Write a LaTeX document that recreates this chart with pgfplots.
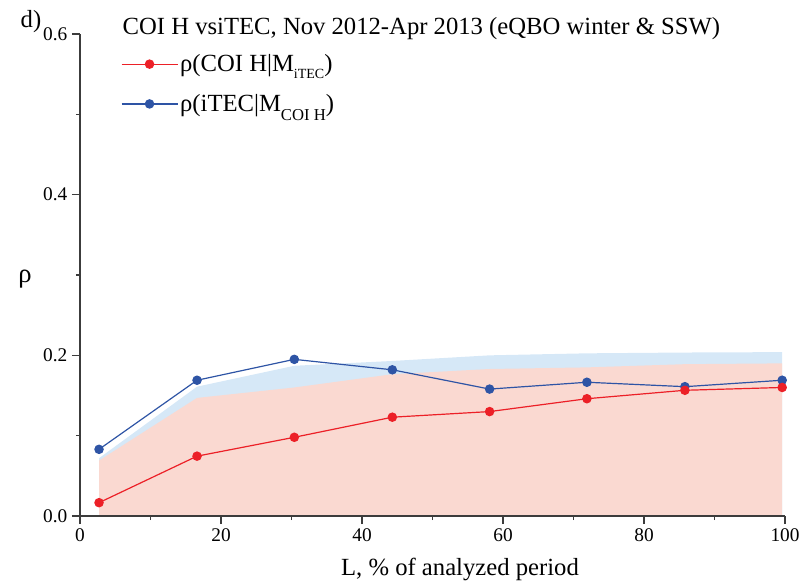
\documentclass[border=0pt]{standalone}
\usepackage{fontspec}
\setmainfont{Liberation Serif}
\usepackage{pgfplots}
\pgfplotsset{compat=1.18}
\definecolor{redline}{RGB}{236,32,39}
\definecolor{blueline}{RGB}{46,84,165}
\definecolor{bluefill}{RGB}{214,232,247}
\definecolor{redfill}{RGB}{250,217,209}
\definecolor{axisgray}{RGB}{60,60,60}
\newcommand{\subA}[1]{\raisebox{-5pt}{\fontsize{10.5}{10.5}\selectfont #1}}
\newcommand{\subB}[1]{\raisebox{-6.5pt}{\fontsize{12.5}{12.5}\selectfont #1}}
\begin{document}
\begin{tikzpicture}
\useasboundingbox (-60pt,-50.25pt) rectangle (546.75pt,387pt);
\begin{axis}[
  at={(0pt,0pt)}, anchor=south west,
  scale only axis, width=528.75pt, height=361.5pt,
  xmin=0, xmax=100, ymin=0, ymax=0.6,
  axis x line*=bottom, axis y line*=left,
  axis on top,
  axis line style={axisgray, line width=1pt},
  xtick={0,20,...,100}, ytick={0,0.2,0.4,0.6},
  minor xtick={10,30,50,70,90}, minor ytick={0.1,0.3,0.5},
  tick align=outside, major tick length=6pt, minor tick length=3pt,
  tick style={axisgray, line width=0.8pt},
  yticklabel style={/pgf/number format/fixed, /pgf/number format/fixed zerofill, /pgf/number format/precision=1},
  /pgf/number format/assume math mode=true,
  ticklabel style={font=\fontsize{14.5}{14.5}\selectfont},
  legend style={draw=none, fill=none, at={(axis description cs:0.0577,0.962)}, anchor=north west,
    inner sep=0pt, row sep=12.5pt, font=\fontsize{18.5}{18.5}\selectfont, nodes={inner sep=1.5pt}},
  legend cell align=left,
  reverse legend,
  legend image code/.code={\draw[#1, mark repeat=2, mark phase=2] plot coordinates {(0pt,0pt) (21pt,0pt) (42pt,0pt)};},
]
\addplot[draw=none, fill=bluefill, forget plot] coordinates {
  (2.7,0.072) (16.6,0.161) (30.4,0.187) (44.3,0.193) (58.1,0.200) (71.9,0.2025) (85.8,0.2035) (99.6,0.204)
} \closedcycle;
\addplot[draw=none, fill=redfill, forget plot] coordinates {
  (2.7,0.069) (16.6,0.147) (30.4,0.160) (44.3,0.1765) (58.1,0.183) (71.9,0.185) (85.8,0.189) (99.6,0.190)
} \closedcycle;
\addplot[color=blueline, line width=0.9pt, mark=*, mark size=3.1pt] coordinates {
  (2.7,0.083) (16.6,0.169) (30.4,0.195) (44.3,0.182) (58.1,0.158) (71.9,0.1665) (85.8,0.161) (99.6,0.169)
};
\addlegendentry{ρ(iTEC|M\subB{COI H})}
\addplot[color=redline, line width=0.9pt, mark=*, mark size=3.1pt] coordinates {
  (2.7,0.0166) (16.6,0.0745) (30.4,0.098) (44.3,0.123) (58.1,0.130) (71.9,0.146) (85.8,0.1565) (99.6,0.160)
};
\addlegendentry{ρ(COI H|M\subA{iTEC})}
\end{axis}
\node[anchor=base west, font=\fontsize{18.5}{18.5}\selectfont] at (28.5pt,360.75pt) {COI H vsiTEC, Nov 2012-Apr 2013 (eQBO winter \& SSW)};
\node[anchor=base west, font=\fontsize{18.5}{18.5}\selectfont] at (-48pt,366pt) {d)};
\node[anchor=base, font=\fontsize{18.5}{18.5}\selectfont] at (285pt,-44.25pt) {L, \% of analyzed period};
\node[anchor=center, font=\fontsize{20}{20}\selectfont] at (-41.25pt,178pt) {ρ};
\end{tikzpicture}
\end{document}
